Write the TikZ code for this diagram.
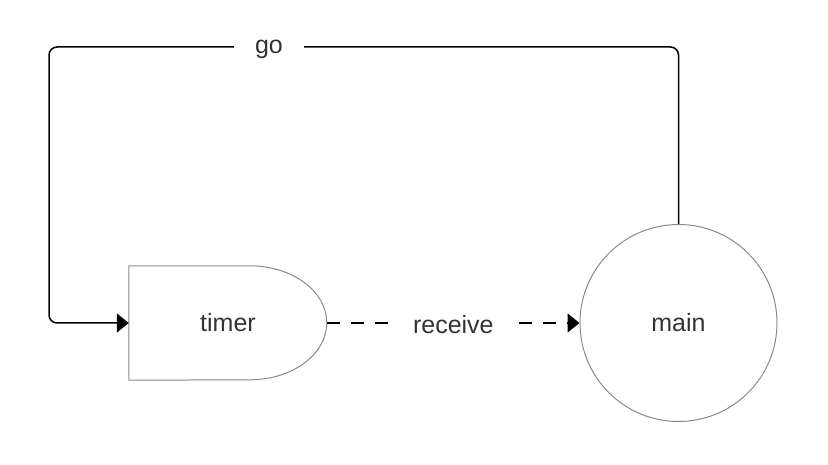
\documentclass[tikz,border=0pt]{standalone}
\usepackage{fontspec}
\setmainfont{Liberation Sans}
\usetikzlibrary{arrows.meta, positioning}
\definecolor{txtgray}{HTML}{333333}
\definecolor{edgegray}{HTML}{8A8A8A}
\tikzstyle{block}=[inner sep=0pt, text=txtgray, font=\fontsize{25}{30}\selectfont]
\tikzstyle{conn}=[line width=1.5pt, black, -{Triangle[length=12pt, width=19pt]}, rounded corners=8pt]
\tikzstyle{lbl}=[fill=white, text=txtgray, inner xsep=21pt, inner ysep=3pt, yshift=-2pt, font=\fontsize{25}{30}\selectfont]

\begin{document}
\begin{tikzpicture}[x=1pt, y=1pt]
		\useasboundingbox (0,0) rectangle (828,464);
		\node[block, minimum width=198pt, minimum height=114pt] (timer) at (228,141) {timer};
		\node[block, circle, draw=edgegray, line width=1pt, minimum size=197pt] (main) at (678.5,141) {main};
		\draw[edgegray, line width=1pt] (timer.north west) -- ++(121,0)
			arc[start angle=90, end angle=-90, x radius=77, y radius=57] -- (timer.south west) -- cycle;
		\coordinate (corner) at (49,417);
		\draw[conn] (main.north) |- (corner) |- (timer.west);
		\node[lbl] (go) at (269,417) {go};
		\draw[conn, dash pattern=on 13pt off 11pt] (timer.east) -- (main.west)
			node[lbl, midway] (recv) {receive};
	\end{tikzpicture}
\end{document}
